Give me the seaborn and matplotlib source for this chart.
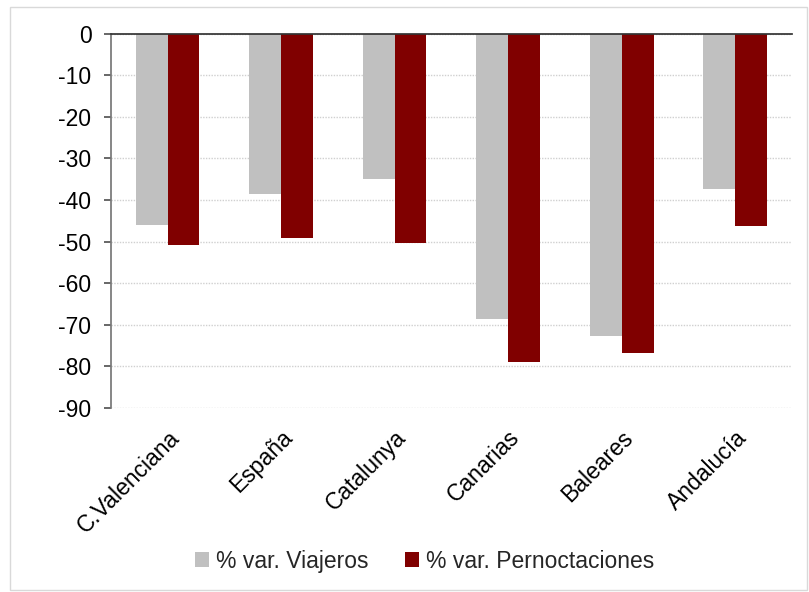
import pandas as pd
import matplotlib.pyplot as plt
import seaborn as sns
from matplotlib.patches import Rectangle

regiones = ["C.Valenciana", "España", "Catalunya", "Canarias", "Baleares", "Andalucía"]
viajeros = [-46.0, -38.5, -35.0, -68.6, -72.8, -37.3]
pernoctaciones = [-50.8, -49.2, -50.4, -78.9, -76.7, -46.2]
series = ["% var. Viajeros", "% var. Pernoctaciones"]

df = pd.DataFrame({
    "region": regiones * 2,
    "serie": [series[0]] * len(regiones) + [series[1]] * len(regiones),
    "valor": viajeros + pernoctaciones,
})

sns.set_theme(style="white")
plt.rcParams["font.family"] = ["Liberation Sans", "DejaVu Sans"]
plt.rcParams["axes.unicode_minus"] = False

fig = plt.figure(figsize=(8.09, 5.92), dpi=100)
ax = fig.add_axes([0.137, 0.311, 0.842, 0.632])

sns.barplot(data=df, x="region", y="valor", hue="serie", hue_order=series,
            palette=["#c0c0c0", "#800000"], saturation=1, width=0.56,
            linewidth=0, ax=ax, legend=True)

ax.set_ylim(-90, 0)
ax.set_yticks(range(-90, 1, 10))
ax.set_xlim(-0.5, len(regiones) - 0.5)
ax.yaxis.grid(True, linestyle=(0, (1, 1)), color="#d0d0d0", linewidth=1)
ax.set_axisbelow(True)
for s in ["right", "bottom"]:
    ax.spines[s].set_visible(False)
ax.spines["left"].set_color("#777777")
ax.spines["top"].set_color("#333333")
ax.tick_params(axis="y", left=True, length=5, color="#555555", labelsize=16.5,
               labelcolor="black", pad=9)
ax.tick_params(axis="x", bottom=False, labelsize=16.5, labelcolor="black", pad=7)
plt.setp(ax.get_xticklabels(), rotation=45, ha="right", rotation_mode="anchor")
ax.set_xlabel("")
ax.set_ylabel("")

handles, labels = ax.get_legend_handles_labels()
ax.get_legend().remove()
fig.legend(handles, labels, loc="center", bbox_to_anchor=(0.525, 0.052), ncol=2,
           frameon=False, fontsize=16.5, handlelength=0.6, handleheight=0.6,
           handletextpad=0.3, columnspacing=1.6)

fig.patches.append(Rectangle((10 / 809, 2 / 592), 797 / 809, 583 / 592,
                             transform=fig.transFigure, fill=False,
                             edgecolor="#d9d9d9", linewidth=1))

fig.savefig("out.png", dpi=100)
